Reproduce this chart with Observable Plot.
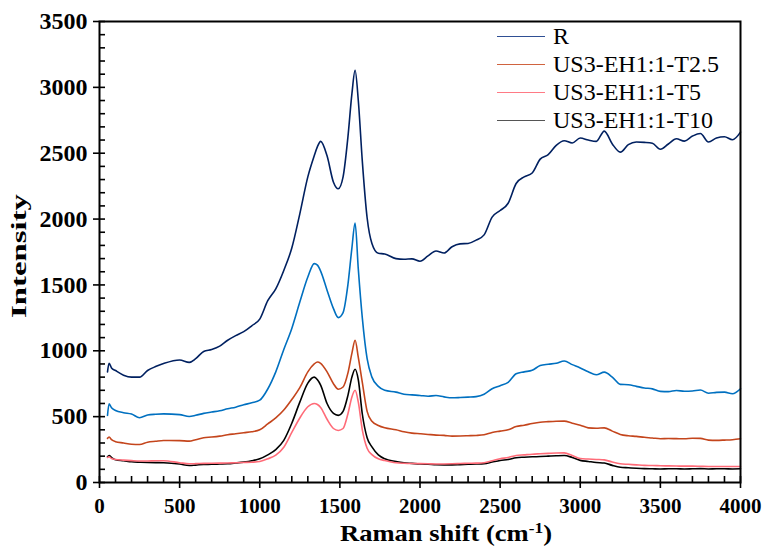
<!DOCTYPE html>
<html>
<head>
<meta charset="utf-8">
<script src="https://cdn.jsdelivr.net/npm/d3@7"></script>
<script src="https://cdn.jsdelivr.net/npm/@observablehq/plot@0.6"></script>
<style>
  html, body { margin: 0; padding: 0; background: #fff; }
  #chart { position: relative; width: 767px; height: 546px; }
  #legend {
    position: absolute; left: 497px; top: 22px;
    font-family: "Liberation Serif", "Times New Roman", serif;
    font-size: 24px; color: #000; line-height: 28px;
  }
  #legend .row { display: flex; align-items: center; height: 28px; }
  #legend .swatch { width: 48px; height: 0; border-top: 1.4px solid; margin-right: 8px; }
</style>
</head>
<body>
<div id="chart"></div>
<script>
// Raman shift (cm-1) sample positions shared by all spectra
const shift = [50, 60, 75, 100, 150, 200, 250, 300, 350, 400, 500, 560, 600, 650, 700, 750, 800, 850, 900, 950,
  1000, 1050, 1100, 1150, 1200, 1250, 1300, 1340, 1360, 1380, 1420, 1460, 1490, 1520, 1550, 1575, 1595, 1615, 1640, 1670,
  1700, 1740, 1780, 1850, 1900, 1950, 2000, 2050, 2100, 2150, 2200, 2250, 2300, 2350, 2400, 2450, 2500, 2550, 2600, 2650,
  2700, 2750, 2800, 2850, 2900, 2950, 3000, 3050, 3100, 3150, 3200, 3250, 3300, 3350, 3400, 3450, 3500, 3550, 3600, 3650,
  3700, 3750, 3800, 3850, 3900, 3950, 4000];

// Intensities
const seriesR = [840, 905, 870, 850, 815, 800, 800, 850, 880, 903, 930, 912, 940, 995, 1010, 1035, 1080, 1115, 1145, 1190,
  1240, 1380, 1470, 1610, 1780, 2040, 2320, 2480, 2550, 2590, 2480, 2280, 2230, 2320, 2620, 2950, 3130, 2900, 2440, 2010,
  1815, 1740, 1735, 1700, 1695, 1698, 1680, 1720, 1758, 1742, 1790, 1812, 1815, 1840, 1880, 2015, 2065, 2120, 2270, 2320,
  2350, 2455, 2490, 2560, 2595, 2578, 2615, 2600, 2590, 2668, 2570, 2508, 2565, 2585, 2582, 2575, 2530, 2570, 2610, 2592,
  2630, 2650, 2585, 2615, 2625, 2602, 2660];

const seriesBlue = [510, 597, 567, 547, 530, 520, 492, 512, 518, 521, 515, 501, 510, 525, 535, 545, 560, 572, 590, 605,
  625, 710, 840, 1010, 1170, 1370, 1560, 1662, 1650, 1605, 1460, 1320, 1252, 1290, 1500, 1780, 1970, 1620, 1250, 940,
  800, 730, 700, 686, 670, 665, 661, 655, 660, 650, 643, 645, 648, 652, 670, 712, 735, 760, 825, 840,
  852, 888, 898, 905, 922, 895, 870, 840, 818, 838, 800, 745, 742, 730, 718, 711, 692, 690, 698, 693,
  695, 702, 678, 684, 686, 674, 712];

const seriesT25 = [335, 345, 325, 310, 300, 290, 288, 306, 313, 319, 318, 314, 325, 340, 345, 352, 363, 370, 378, 385,
  400, 445, 490, 550, 630, 720, 840, 900, 915, 905, 840, 750, 708, 725, 830, 980, 1080, 950, 760, 540,
  465, 433, 415, 400, 385, 375, 370, 365, 360, 358, 352, 353, 355, 357, 362, 380, 390, 400, 425, 435,
  448, 458, 462, 465, 466, 450, 435, 415, 412, 415, 390, 365, 355, 350, 343, 338, 332, 334, 333, 332,
  336, 335, 322, 320, 322, 325, 332];

const seriesT5 = [190, 195, 182, 175, 170, 166, 163, 163, 165, 165, 150, 142, 143, 145, 146, 147, 148, 150, 152, 154,
  160, 180, 208, 268, 380, 490, 575, 600, 592, 570, 480, 410, 395, 410, 520, 650, 700, 610, 400, 260,
  212, 180, 167, 150, 146, 144, 143, 142, 141, 141, 142, 144, 146, 147, 150, 165, 180, 190, 205, 210,
  215, 218, 221, 224, 225, 205, 182, 178, 175, 172, 155, 142, 138, 134, 130, 129, 127, 126, 125, 124,
  124, 123, 122, 122, 121, 121, 121];

const seriesT10 = [195, 205, 190, 172, 165, 157, 154, 152, 151, 150, 140, 129, 132, 137, 138, 140, 142, 148, 155, 165,
  180, 210, 250, 320, 450, 610, 755, 800, 780, 740, 600, 525, 510, 540, 660, 800, 860, 780, 520, 340,
  270, 210, 180, 160, 150, 145, 140, 138, 135, 134, 134, 136, 138, 140, 143, 155, 167, 175, 188, 192,
  195, 197, 200, 203, 205, 190, 168, 160, 152, 148, 130, 116, 112, 108, 105, 104, 103, 104, 104, 103,
  104, 105, 103, 104, 104, 103, 104];

const seriesColors = ["#002060", "#0070c0", "#c4451c", "#000000", "#ff6b78"];
const seriesValues = [seriesR, seriesBlue, seriesT25, seriesT10, seriesT5];

const legendNames = ["R", "US3-EH1:1-T2.5", "US3-EH1:1-T5", "US3-EH1:1-T10"];
const legendColors = ["#2f4f94", "#d0633f", "#ff7a85", "#555555"];

const xTicks = [0, 500, 1000, 1500, 2000, 2500, 3000, 3500, 4000];
const yTicks = [0, 500, 1000, 1500, 2000, 2500, 3000, 3500];
const xMinor = d3.range(0, 4001, 100).filter(v => v % 500 !== 0);
const yMinor = d3.range(0, 3501, 100).filter(v => v % 500 !== 0);

const rows = [];
seriesValues.forEach((vals, i) => {
  vals.forEach((v, j) => rows.push({shift: shift[j], intensity: v, key: i}));
});

const W = 767, H = 546;
const mL = 99, mR = 27, mT = 21, mB = 64;
const innerW = W - mL - mR, innerH = H - mT - mB;
const serif = "'Liberation Serif', 'Times New Roman', serif";

const svg = Plot.plot({
  width: W,
  height: H,
  marginLeft: mL,
  marginRight: mR,
  marginTop: mT,
  marginBottom: mB,
  style: {fontFamily: serif, color: "#000", background: "#fff"},
  x: {domain: [0, 4000], axis: null},
  y: {domain: [0, 3500], axis: null},
  marks: [
    ...seriesValues.map((_, i) =>
      Plot.line(rows.filter(d => d.key === i), {
        x: "shift", y: "intensity",
        stroke: seriesColors[i], strokeWidth: 1.6, curve: "monotone-x"
      })
    ),
    Plot.frame({stroke: "#000", strokeWidth: 2}),
    // major ticks cross the axis line, minor ticks point inward
    Plot.ruleX(xTicks, {insetTop: innerH - 6, insetBottom: -6, strokeWidth: 1.6}),
    Plot.ruleX(xMinor, {insetTop: innerH - 6, insetBottom: 0, strokeWidth: 1.6}),
    Plot.ruleY(yTicks, {insetLeft: -6, insetRight: innerW - 6, strokeWidth: 1.6}),
    Plot.ruleY(yMinor, {insetLeft: 0, insetRight: innerW - 6, strokeWidth: 1.6}),
    Plot.axisX({ticks: xTicks, tickSize: 0, tickPadding: 16, tickFormat: d => `${d}`, label: null,
      fontSize: 21, fontWeight: "bold"}),
    Plot.axisY({ticks: yTicks, tickSize: 0, tickPadding: 12, tickFormat: d => `${d}`, label: null,
      fontSize: 24, fontWeight: "bold"})
  ]
});

// axis titles
const s = d3.select(svg);
const xt = s.append("text")
  .attr("x", 446).attr("y", 541)
  .attr("text-anchor", "middle")
  .attr("font-family", serif).attr("font-weight", "bold").attr("font-size", 23)
  .attr("textLength", 212).attr("lengthAdjust", "spacingAndGlyphs")
  .attr("fill", "#000");
xt.append("tspan").text("Raman shift (cm");
xt.append("tspan").attr("dy", -8).attr("font-size", 15).text("-1");
xt.append("tspan").attr("dy", 8).text(")");

s.append("text")
  .attr("transform", "translate(26,256) rotate(-90)")
  .attr("text-anchor", "middle")
  .attr("font-family", serif).attr("font-weight", "bold").attr("font-size", 22)
  .attr("textLength", 124).attr("lengthAdjust", "spacingAndGlyphs")
  .attr("fill", "#000")
  .text("Intensity");

const chart = document.getElementById("chart");
chart.appendChild(svg);

// legend
const legend = document.createElement("div");
legend.id = "legend";
legendNames.forEach((name, i) => {
  const row = document.createElement("div");
  row.className = "row";
  const sw = document.createElement("span");
  sw.className = "swatch";
  sw.style.borderTopColor = legendColors[i];
  const label = document.createElement("span");
  label.textContent = name;
  row.appendChild(sw);
  row.appendChild(label);
  legend.appendChild(row);
});
chart.appendChild(legend);
</script>
</body>
</html>
